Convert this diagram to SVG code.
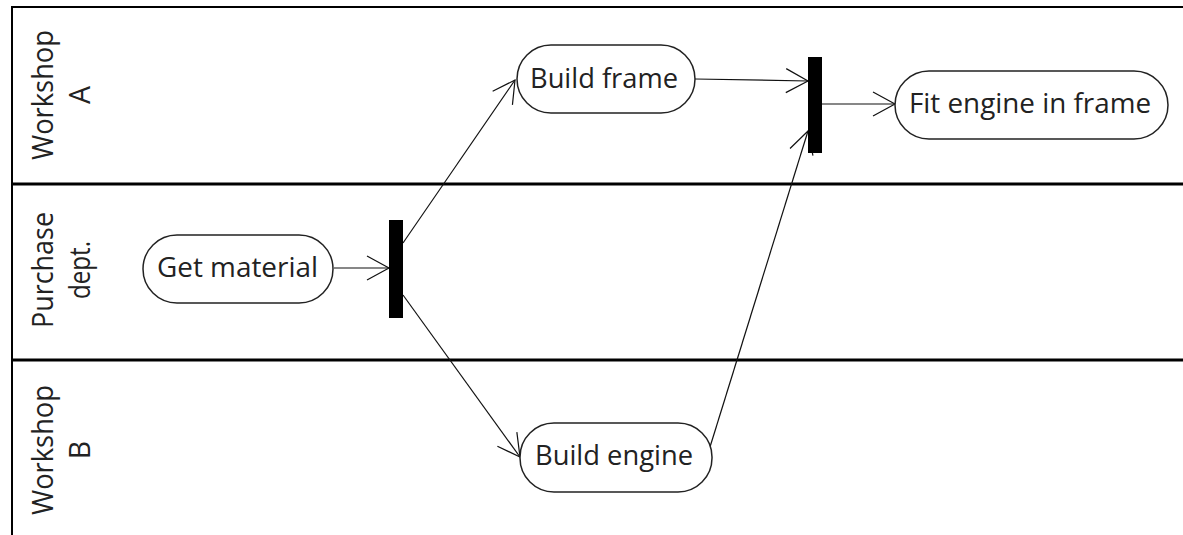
<svg xmlns="http://www.w3.org/2000/svg" width="1183" height="535" viewBox="0 0 1183 535">
<style>
  .lane { stroke: #000; fill: none; }
  .node { fill: #fff; stroke: #222; stroke-width: 1.5; }
  .bar { fill: #000; }
  .txt { font-family: "Open Sans", "Noto Sans", "Liberation Sans", sans-serif; font-size: 28px; fill: #222; }
  .lbl { font-family: "Open Sans", "Noto Sans", "Liberation Sans", sans-serif; font-size: 28.5px; fill: #222; text-anchor: middle; }
  .edge { stroke: #111; stroke-width: 1.2; fill: none; marker-end: url(#open); }
</style>
<defs>
  <marker id="open" markerUnits="userSpaceOnUse" markerWidth="26" markerHeight="28" viewBox="0 0 26 28" refX="23" refY="14" orient="auto">
    <path d="M1,2 L23,14 L1,26" fill="none" stroke="#111" stroke-width="1.2"/>
  </marker>
</defs>
<rect width="1183" height="535" fill="#fff"/>
<g id="lanes">
  <line class="lane" x1="12" y1="7" x2="1183" y2="7" stroke-width="2"/>
  <line class="lane" x1="12" y1="6" x2="12" y2="535" stroke-width="2"/>
  <line class="lane" x1="12" y1="184" x2="1183" y2="184" stroke-width="3"/>
  <line class="lane" x1="12" y1="360" x2="1183" y2="360" stroke-width="3"/>
</g>
<g id="lane-workshop-a" transform="translate(53,95) rotate(-90)">
  <text class="lbl" x="0" y="0" textLength="130" lengthAdjust="spacingAndGlyphs">Workshop</text>
  <text class="lbl" x="0" y="37">A</text>
</g>
<g id="lane-purchase" transform="translate(53,270) rotate(-90)">
  <text class="lbl" x="0" y="0" textLength="116" lengthAdjust="spacingAndGlyphs">Purchase</text>
  <text class="lbl" x="0" y="37" textLength="58" lengthAdjust="spacingAndGlyphs">dept.</text>
</g>
<g id="lane-workshop-b" transform="translate(53,450) rotate(-90)">
  <text class="lbl" x="0" y="0" textLength="130" lengthAdjust="spacingAndGlyphs">Workshop</text>
  <text class="lbl" x="0" y="37">B</text>
</g>
<g id="connectors">
  <line class="edge" x1="334" y1="268" x2="389" y2="268"/>
  <line class="edge" x1="403" y1="243" x2="515" y2="80"/>
  <line class="edge" x1="403" y1="295" x2="520" y2="457"/>
  <line class="edge" x1="695" y1="79" x2="808" y2="81"/>
  <line class="edge" x1="710" y1="447" x2="808" y2="131"/>
  <line class="edge" x1="822" y1="104" x2="895" y2="104"/>
</g>
<g id="get-material">
  <rect class="node" x="143" y="235" width="190" height="68" rx="34"/>
  <text class="txt" x="157" y="277" textLength="161" lengthAdjust="spacingAndGlyphs">Get material</text>
</g>
<g id="fork">
  <rect class="bar" x="389" y="220" width="14" height="98"/>
</g>
<g id="build-frame">
  <rect class="node" x="517" y="45" width="178" height="68" rx="34"/>
  <text class="txt" x="530" y="88" textLength="148" lengthAdjust="spacingAndGlyphs">Build frame</text>
</g>
<g id="build-engine">
  <rect class="node" x="520" y="423" width="192" height="69" rx="34"/>
  <text class="txt" x="535" y="465" textLength="158" lengthAdjust="spacingAndGlyphs">Build engine</text>
</g>
<g id="join">
  <rect class="bar" x="808" y="57" width="14" height="96"/>
</g>
<g id="fit-engine">
  <rect class="node" x="895" y="71" width="273" height="68" rx="34"/>
  <text class="txt" x="909" y="113" textLength="242" lengthAdjust="spacingAndGlyphs">Fit engine in frame</text>
</g>
</svg>
